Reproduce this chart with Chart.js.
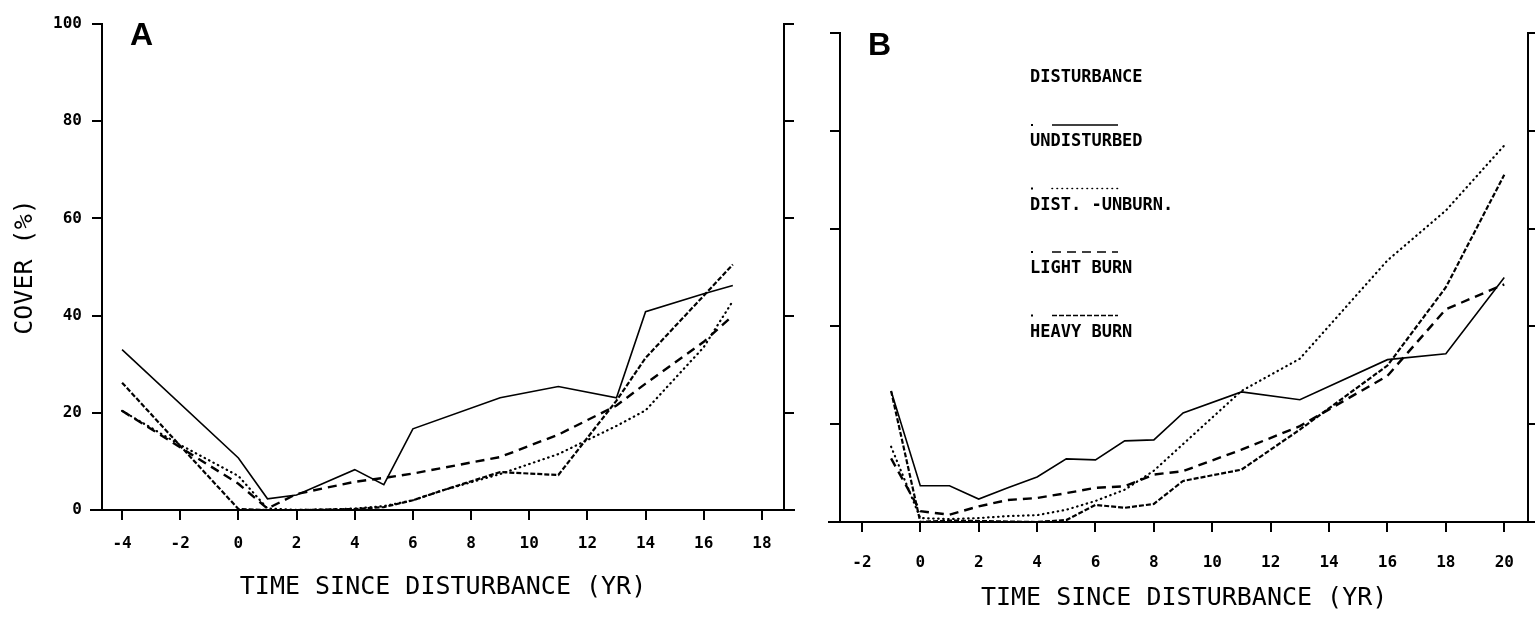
<!DOCTYPE html>
<html>
<head>
<meta charset="utf-8">
<title>Cover vs time since disturbance</title>
<script src="https://cdn.jsdelivr.net/npm/chart.js@4.4.1/dist/chart.umd.min.js"></script>
<style>
  html, body { margin: 0; padding: 0; background: #fff; }
  #wrap { position: relative; width: 1535px; height: 617px; overflow: hidden; }
  .panel { position: absolute; top: 0; height: 617px; }
  #panelA { left: 0; width: 815px; }
  #panelB { left: 815px; width: 720px; }
</style>
</head>
<body>
<div id="wrap">
  <div class="panel" id="panelA"><canvas id="chartA"></canvas></div>
  <div class="panel" id="panelB"><canvas id="chartB"></canvas></div>
</div>
<script>
// --- values: cover (%) by years since disturbance ---
const seriesNames = ['UNDISTURBED', 'DIST. -UNBURN.', 'LIGHT BURN', 'HEAVY BURN'];

// Panel A (null = no reading that year, line is bridged)
const yearsA   = [-4,   -2,   0,    1,   2,   3,   4,   5,   6,   7,   9,    11,   13,   14,   16,   17];
const undistA  = [33,   null, 10.7, 2.3, 3.1, null, 8.3, 5.2, 16.7, null, 23.1, 25.4, 23.1, 40.8, 44.5, 46.2];
const unburnA  = [20.4, 13.4, 7,    0.3, 0,   0.1, 0.3, 0.8, 2,   4,   7.4,  11.5, 17.3, 20.5, 33.5, 43];
const lightA   = [20.4, null, 5.4,  0.3, 3.3, null, 5.8, 6.6, 7.5, null, 10.9, 15.5, 21.5, 26,   34.6, 40];
const heavyA   = [26.2, null, 0.2,  0,   0,   0.1, 0.2, 0.6, 2,   4,   7.8,  7.2,  22.5, 31.3, null, 50.5];

// Panel B
const yearsB   = [-1,   0,   1,   2,   3,   4,   5,    6,    7,    8,    9,    11,   13,   16,   18,   20];
const undistB  = [26.8, 7.4, 7.4, 4.7, 7,   9.2, 12.9, 12.7, 16.6, 16.8, 22.3, 26.6, 25,   33.2, 34.4, 50];
const unburnB  = [15.4, 0.8, 0.6, 0.8, 1.2, 1.4, 2.5,  4.3,  6.6,  10.5, null, 26.8, 33.4, 53.5, 63.7, 77];
const lightB   = [13,   2.2, 1.5, 3.2, 4.5, 4.9, 5.9,  7,    7.3,  9.7,  10.4, 14.8, 19.6, 29.9, 43.5, 48.6];
const heavyB   = [26.8, 0,   0.3, 0.2, 0.1, 0,   0.4,  3.5,  2.9,  3.7,  8.4,  10.7, 18.9, 32,   48,   71];

const yTicks  = [0, 20, 40, 60, 80, 100];
const xTicksA = [-4, -2, 0, 2, 4, 6, 8, 10, 12, 14, 16, 18];
const xTicksB = [-2, 0, 2, 4, 6, 8, 10, 12, 14, 16, 18, 20];

Chart.defaults.font.family = "'DejaVu Sans Mono', monospace";
Chart.defaults.color = '#000';

// plotter pen styles, one per series
const lineStyles = [
    { borderWidth: 1.6, borderDash: [] },
    { borderWidth: 2.2, borderDash: [0.5, 4.5], borderCapStyle: 'round' },
    { borderWidth: 2.4, borderDash: [9, 6] },
    { borderWidth: 2.2, borderDash: [5, 2] }
];

function makeDatasets(years, seriesList) {
    return seriesList.map((vals, i) => ({
        label: seriesNames[i],
        data: years.map((yr, j) => ({ x: yr, y: vals[j] })),
        borderColor: '#000',
        pointRadius: 0,
        tension: 0,
        spanGaps: true,
        fill: false,
        ...lineStyles[i]
    }));
}

function makeScales(o) {
    const axisGrid = { drawOnChartArea: false, drawTicks: true, tickLength: 10, color: '#000', lineWidth: 2 };
    const axisBorder = { display: true, color: '#000', width: 2 };
    const setYTicks = s => { s.ticks = yTicks.map(v => ({ value: v })); };
    return {
        x: {
            type: 'linear', min: o.xMin, max: o.xMax,
            afterBuildTicks: s => { s.ticks = o.xTicks.map(v => ({ value: v })); },
            afterFit: s => { s.height = o.xHeight; },
            grid: axisGrid,
            border: axisBorder,
            ticks: { font: { size: 16, weight: 'bold' }, padding: o.tickPad, maxRotation: 0, autoSkip: false },
            title: {
                display: true, text: 'TIME SINCE DISTURBANCE (YR)',
                font: { size: 25 }, padding: { top: 0, bottom: o.titlePad }
            }
        },
        y: {
            type: 'linear', position: 'left', min: 0, max: 100,
            afterBuildTicks: setYTicks,
            afterFit: s => { s.width = o.leftWidth; },
            grid: axisGrid,
            border: axisBorder,
            ticks: { display: o.yLabels, font: { size: 16, weight: 'bold' }, padding: 10 },
            title: {
                display: o.yLabels, text: 'COVER (%)',
                font: { size: 25 }, padding: { top: 10, bottom: 0 }
            }
        },
        yR: {
            type: 'linear', position: 'right', min: 0, max: 100,
            afterBuildTicks: setYTicks,
            afterFit: s => { s.width = o.rightWidth; },
            grid: axisGrid,
            border: axisBorder,
            ticks: { display: false }
        }
    };
}

function drawLegend(chart, pos) {
    const ctx = chart.ctx;
    ctx.font = "bold 17px 'DejaVu Sans Mono', monospace";
    ctx.textBaseline = 'middle';
    ctx.fillText('DISTURBANCE', pos.x, pos.headY);
    chart.data.datasets.forEach((ds, i) => {
        const ly = pos.firstY + i * pos.step;
        ctx.fillRect(pos.x + 1, ly - 1, 2, 2);
        ctx.save();
        ctx.lineWidth = Math.min(ds.borderWidth, 1.6);
        ctx.setLineDash(ds.borderDash);
        ctx.lineCap = ds.borderCapStyle || 'butt';
        ctx.beginPath();
        ctx.moveTo(pos.x + 22, ly);
        ctx.lineTo(pos.x + 88, ly);
        ctx.stroke();
        ctx.restore();
        ctx.fillText(ds.label, pos.x, ly + 17);
    });
}

// panel letter, axis overhang and (panel B) the key
const decorations = {
    id: 'decorations',
    afterDraw(chart, args, opts) {
        const { ctx, chartArea: a } = chart;
        ctx.save();
        ctx.strokeStyle = '#000';
        ctx.fillStyle = '#000';
        ctx.lineWidth = 2;
        ctx.beginPath();
        ctx.moveTo(a.left - opts.overLeft, a.bottom);
        ctx.lineTo(a.right + opts.overRight, a.bottom);
        ctx.stroke();
        ctx.font = "bold 32px 'Liberation Sans', Arial, sans-serif";
        ctx.textBaseline = 'alphabetic';
        ctx.fillText(opts.letter, opts.letterX, opts.letterY);
        if (opts.legend) drawLegend(chart, opts.legend);
        ctx.restore();
    }
};

new Chart(document.getElementById('chartA'), {
    type: 'line',
    data: { datasets: makeDatasets(yearsA, [undistA, unburnA, lightA, heavyA]) },
    options: {
        responsive: true,
        maintainAspectRatio: false,
        animation: false,
        layout: { padding: { top: 24, bottom: 0, left: 0, right: 0 } },
        scales: makeScales({
            xMin: -4.69, xMax: 18.76, xTicks: xTicksA, xHeight: 107,
            tickPad: 14, titlePad: 15, leftWidth: 102, rightWidth: 31, yLabels: true
        }),
        plugins: {
            legend: { display: false },
            tooltip: { enabled: false },
            decorations: { letter: 'A', letterX: 130, letterY: 45, overLeft: 12, overRight: 11 }
        }
    },
    plugins: [decorations]
});

new Chart(document.getElementById('chartB'), {
    type: 'line',
    data: { datasets: makeDatasets(yearsB, [undistB, unburnB, lightB, heavyB]) },
    options: {
        responsive: true,
        maintainAspectRatio: false,
        animation: false,
        layout: { padding: { top: 33, bottom: 0, left: 0, right: 0 } },
        scales: makeScales({
            xMin: -2.75, xMax: 20.82, xTicks: xTicksB, xHeight: 95,
            tickPad: 21, titlePad: 4, leftWidth: 25, rightWidth: 3, yLabels: false
        }),
        plugins: {
            legend: { display: false },
            tooltip: { enabled: false },
            decorations: {
                letter: 'B', letterX: 53, letterY: 55, overLeft: 12, overRight: 3,
                legend: { x: 215, headY: 78, firstY: 125, step: 63.5 }
            }
        }
    },
    plugins: [decorations]
});
</script>
</body>
</html>
